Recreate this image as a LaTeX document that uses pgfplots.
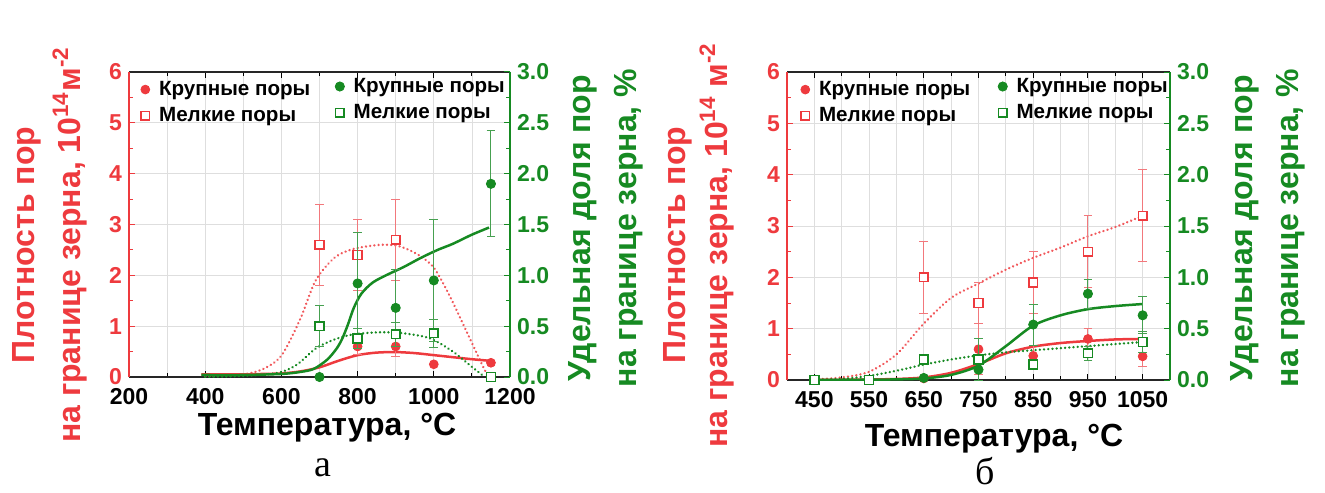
\documentclass[border=0pt]{standalone}
\usepackage{fontspec}
\setmainfont{Liberation Sans}
\newfontfamily\serifrm{Liberation Serif}
\usepackage{pgfplots}
\pgfplotsset{compat=1.18}
\definecolor{cred}{RGB}{238,58,62}
\definecolor{cgreen}{RGB}{22,138,34}
\definecolor{cgrid}{RGB}{222,222,222}
\definecolor{credlt}{RGB}{242,120,124}
\definecolor{cgreenlt}{RGB}{70,160,80}

\pgfplotsset{
  base/.style={
    scale only axis,
    /pgf/number format/assume math mode=true,
    /pgf/number format/set thousands separator={},
    tick label style={font=\fontsize{11.5}{12}\selectfont\bfseries},
    xticklabel style={yshift=-2pt},
    major tick length=3pt, minor tick length=1.8pt, tick align=inside,
    clip=true,
    legend cell align=left,
    legend style={draw=none, fill=none, inner sep=1pt, row sep=2.5pt,
      font=\fontsize{10.3}{12}\selectfont\bfseries,
      nodes={inner sep=1pt}},
    legend image code/.code={\path (0cm,0cm) (0.22cm,0cm); \draw[#1] plot coordinates {(0.02cm,0cm)};},
  },
  redax/.style={base,
    ymin=0, ymax=6, ytick={0,1,...,6}, minor y tick num=1,
    axis y line*=left, axis x line*=box,
    y axis line style={cred, line width=0.6pt},
    x axis line style={black!85, line width=0.6pt},
    yticklabel style={text=cred},
    ytick style={cred, line width=0.5pt},
    xtick style={black, line width=0.5pt},
    xmajorgrids, xminorgrids, ymajorgrids,
    major grid style={cgrid, line width=0.4pt},
    minor grid style={cgrid, line width=0.4pt},
  },
  greenax/.style={base,
    ymin=0, ymax=3, ytick={0,0.5,...,3}, minor y tick num=1,
    axis x line=none, axis y line*=right,
    y axis line style={cgreen, line width=0.6pt},
    yticklabel style={text=cgreen, /pgf/number format/.cd, fixed, fixed zerofill, precision=1},
    ytick style={cgreen, line width=0.5pt},
  },
  rsolid/.style={color=cred, line width=1.25pt, smooth, no markers},
  rdot/.style={color=cred!85, line width=1.3pt, smooth, no markers, line cap=round, dash pattern=on 0.01pt off 2.1pt},
  gsolid/.style={color=cgreen, line width=1.25pt, smooth, no markers},
  gdot/.style={color=cgreen, line width=1.3pt, smooth, no markers, line cap=round, dash pattern=on 0.01pt off 2.1pt},
  rerr/.style={forget plot, color=credlt, only marks, mark=none,
    error bars/.cd, y dir=both, y explicit,
    error bar style={line width=0.5pt, solid, color=credlt},
    error mark options={rotate=90, mark size=2.2pt, line width=0.5pt, solid, color=credlt}},
  gerr/.style={forget plot, color=cgreenlt, only marks, mark=none,
    error bars/.cd, y dir=both, y explicit,
    error bar style={line width=0.5pt, solid, color=cgreenlt},
    error mark options={rotate=90, mark size=2.2pt, line width=0.5pt, solid, color=cgreenlt}},
  rfill/.style={color=cred, only marks, mark=*, mark size=2.2pt, mark options={solid, draw=cred, fill=cred}},
  ropen/.style={color=cred, only marks, mark=square*, mark size=2.2pt, mark options={solid, draw=cred, fill=white, line width=0.75pt}},
  gfill/.style={color=cgreen, only marks, mark=*, mark size=2.3pt, mark options={solid, draw=cgreen, fill=cgreen}},
  gopen/.style={color=cgreen, only marks, mark=square*, mark size=2.2pt, mark options={solid, draw=cgreen, fill=white, line width=0.75pt}},
}

\begin{document}
\begin{tikzpicture}
\path[use as bounding box] (0,0) rectangle (662.5pt,246pt);

% ================= panel a =================
\begin{axis}[redax, at={(64.5pt,57.5pt)}, anchor=south west, width=190.5pt, height=152.5pt,
  xmin=200, xmax=1200, xtick={200,400,...,1200}, minor x tick num=1,
  legend style={at={(rel axis cs:0.025,0.985)}, anchor=north west}]
\addplot[rdot, forget plot] coordinates {(400,0.01)(450,0.02)(500,0.05)(550,0.15)(600,0.42)(650,1.15)(690,1.9)(740,2.35)(790,2.52)(860,2.6)(910,2.57)(960,2.4)(1000,2.15)(1040,1.62)(1090,0.83)(1120,0.35)(1140,0.04)};
\addplot[rsolid, forget plot] coordinates {(390,0.05)(450,0.05)(500,0.05)(550,0.06)(600,0.07)(650,0.11)(700,0.19)(750,0.32)(800,0.43)(850,0.48)(900,0.49)(950,0.47)(1000,0.43)(1050,0.39)(1100,0.35)(1145,0.32)};
\addplot[rerr] coordinates {(800,0.6) +- (0,0.15) (900,0.6) +- (0,0.2) (1150,0.28) +- (0,0.05)};
\addplot[rerr] coordinates {(700,2.6) +- (0,0.8) (800,2.4) +- (0,0.7) (900,2.7) +- (0,0.8)};
\addplot[rfill] coordinates {(800,0.6) (900,0.6) (1000,0.25) (1150,0.28)};
\addlegendentry{Крупные поры}
\addplot[ropen] coordinates {(700,2.6) (800,2.4) (900,2.7)};
\addlegendentry{Мелкие поры}
\end{axis}

\begin{axis}[greenax, at={(64.5pt,57.5pt)}, anchor=south west, width=190.5pt, height=152.5pt,
  xmin=200, xmax=1200,
  legend style={at={(rel axis cs:0.535,0.995)}, anchor=north west}]
\addplot[gdot, forget plot] coordinates {(400,0)(500,0.01)(590,0.04)(640,0.12)(690,0.28)(740,0.37)(790,0.42)(860,0.44)(920,0.43)(990,0.38)(1050,0.25)(1100,0.1)(1130,0.01)};
\addplot[gsolid, forget plot] coordinates {(390,0.02)(500,0.02)(600,0.03)(650,0.05)(685,0.08)(720,0.17)(745,0.28)(760,0.38)(775,0.52)(790,0.68)(810,0.82)(840,0.93)(880,1.01)(920,1.08)(965,1.17)(1010,1.25)(1050,1.31)(1100,1.4)(1145,1.47)};
\addplot[gerr] coordinates {(800,0.92) +- (0,0.5) (900,0.68) +- (0,0.38) (1000,0.95) +- (0,0.6) (1150,1.9) +- (0,0.52)};
\addplot[gerr] coordinates {(700,0.5) +- (0,0.2) (800,0.38) +- (0,0.1) (900,0.42) +- (0,0.12) (1000,0.43) +- (0,0.14)};
\addplot[gfill] coordinates {(700,0) (800,0.92) (900,0.68) (1000,0.95) (1150,1.9)};
\addlegendentry{Крупные поры}
\addplot[gopen] coordinates {(700,0.5) (800,0.38) (900,0.42) (1000,0.43) (1150,0.0)};
\addlegendentry{Мелкие поры}
\end{axis}

% ================= panel b =================
\begin{axis}[redax, at={(393.5pt,56pt)}, anchor=south west, width=191.5pt, height=154pt,
  xmin=400, xmax=1100, xtick={450,550,...,1050}, minor x tick num=1,
  legend style={at={(rel axis cs:0.03,0.985)}, anchor=north west}]
\addplot[rdot, forget plot] coordinates {(450,0.01)(500,0.05)(550,0.16)(600,0.5)(650,1.1)(700,1.6)(750,1.88)(800,2.15)(850,2.38)(900,2.58)(950,2.8)(1000,2.98)(1050,3.2)};
\addplot[rsolid, forget plot] coordinates {(450,0)(500,0.005)(550,0.01)(600,0.02)(650,0.05)(700,0.14)(750,0.31)(800,0.52)(850,0.65)(900,0.72)(950,0.76)(1000,0.79)(1050,0.8)};
\addplot[rerr] coordinates {(750,0.6) +- (0,0.5) (850,0.47) +- (0,0.2) (950,0.8) +- (0,0.2) (1050,0.46) +- (0,0.2)};
\addplot[rerr] coordinates {(650,2.0) +- (0,0.7) (750,1.5) +- (0,0.4) (850,1.9) +- (0,0.6) (950,2.5) +- (0,0.7) (1050,3.2) +- (0,0.9)};
\addplot[rfill] coordinates {(450,0) (550,0) (650,0.03) (750,0.6) (850,0.47) (950,0.8) (1050,0.46)};
\addlegendentry{Крупные поры}
\addplot[ropen] coordinates {(450,0) (550,0) (650,2.0) (750,1.5) (850,1.9) (950,2.5) (1050,3.2)};
\addlegendentry{Мелкие поры}
\end{axis}

\begin{axis}[greenax, at={(393.5pt,56pt)}, anchor=south west, width=191.5pt, height=154pt,
  xmin=400, xmax=1100,
  legend style={at={(rel axis cs:0.545,0.995)}, anchor=north west}]
\addplot[gdot, forget plot] coordinates {(450,0)(500,0.01)(550,0.04)(600,0.09)(650,0.15)(700,0.2)(750,0.24)(800,0.27)(850,0.29)(900,0.31)(950,0.33)(1000,0.35)(1050,0.37)};
\addplot[gsolid, forget plot] coordinates {(450,0)(550,0.003)(600,0.006)(650,0.015)(700,0.05)(750,0.14)(800,0.33)(850,0.53)(900,0.63)(950,0.69)(1000,0.72)(1050,0.74)};
\addplot[gerr] coordinates {(750,0.1) +- (0,0.1) (850,0.54) +- (0,0.2) (950,0.84) +- (0,0.14) (1050,0.63) +- (0,0.18)};
\addplot[gerr] coordinates {(650,0.2) +- (0,0.04) (750,0.2) +- (0,0.2) (850,0.15) +- (0,0.05) (950,0.26) +- (0,0.07) (1050,0.37) +- (0,0.1)};
\addplot[gfill] coordinates {(450,0) (550,0) (650,0.02) (750,0.1) (850,0.54) (950,0.84) (1050,0.63)};
\addlegendentry{Крупные поры}
\addplot[gopen] coordinates {(450,0) (550,0) (650,0.2) (750,0.2) (850,0.15) (950,0.26) (1050,0.37)};
\addlegendentry{Мелкие поры}
\end{axis}

% ================= labels =================
\node[rotate=90, align=center, text=cred, font=\fontsize{16}{23}\selectfont\bfseries] at (25pt,123.5pt)
  {Плотность пор\\на границе зерна, 10\textsuperscript{14}м\textsuperscript{-2}};
\node[rotate=90, align=center, text=cgreen, font=\fontsize{16}{23}\selectfont\bfseries] at (303pt,132pt)
  {Удельная доля пор\\на границе зерна, \%};
\node[rotate=90, align=center, text=cred, font=\fontsize{16}{21}\selectfont\bfseries] at (349.5pt,123.5pt)
  {Плотность пор\\на границе зерна, 10\textsuperscript{14} м\textsuperscript{-2}};
\node[rotate=90, align=center, text=cgreen, font=\fontsize{16}{23}\selectfont\bfseries] at (634pt,132pt)
  {Удельная доля пор\\на границе зерна, \%};
\node[font=\fontsize{16}{18}\selectfont\bfseries] at (163.5pt,32pt) {Температура, °C};
\node[font=\fontsize{16}{18}\selectfont\bfseries] at (497pt,26.5pt) {Температура, °C};
\node[inner sep=0pt, font=\fontsize{19}{20}\serifrm] at (161.5pt,12pt) {а};
\node[inner sep=0pt, font=\fontsize{19}{20}\serifrm] at (492.5pt,10.5pt) {б};
\end{tikzpicture}
\end{document}
